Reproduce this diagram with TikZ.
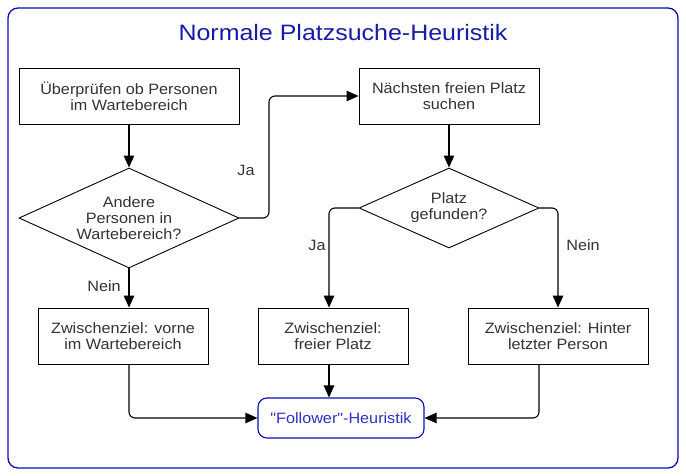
\documentclass[tikz,border=0pt]{standalone}
\usepackage{fontspec}
\setmainfont[FakeStretch=1.08]{Liberation Sans}
\newfontfamily\titlefont[FakeStretch=1.12]{Liberation Sans}
\newfontfamily\folfont[FakeStretch=1.08,Ligatures=TeXOff]{Liberation Sans}
\usetikzlibrary{arrows.meta,shapes.geometric,calc}
\definecolor{txt}{HTML}{333333}
\definecolor{frameblue}{HTML}{0A0AB4}
\definecolor{titleblue}{HTML}{1A1AA8}
\definecolor{folblue}{HTML}{3030C0}
\tikzset{
  box/.style={draw=black, line width=0.9pt, minimum width=#1, minimum height=56pt, inner sep=0pt, align=center, text=txt, font=\fontsize{15}{16}\selectfont},
  dia/.style={draw=black, line width=0.9pt, diamond, aspect=2.2, inner sep=0pt, align=center, text=txt, font=\fontsize{15}{16}\selectfont},
  lbl/.style={text=txt, font=\fontsize{15}{16}\selectfont, inner sep=0pt},
  arr/.style={draw=black, line width=1.1pt, rounded corners=6pt, -{Triangle[length=12pt,width=10.5pt]}},
  ln/.style={draw=black, line width=1.1pt}
}
\begin{document}
\begin{tikzpicture}[x=1pt,y=-1pt]
\useasboundingbox (0,0) rectangle (686,476);
\draw[frameblue, line width=1.3pt, rounded corners=10pt] (8,8) rectangle (678,468);
\node[text=titleblue, font=\titlefont\fontsize{22.3}{24}\selectfont] (title) at (343,33) {Normale Platzsuche-Heuristik};

\node[box=220pt] (b1) at (129,96) {Überprüfen ob Personen\\im Wartebereich};
\node[box=180pt] (b2) at (449,96) {Nächsten freien Platz\\suchen};
\node[dia, minimum width=220pt, minimum height=100pt] (d1) at (129,218) {Andere\\Personen in\\Wartebereich?};
\node[dia, minimum width=180pt, minimum height=80pt] (d2) at (449,208) {Platz\\gefunden?};
\node[box=170pt] (b3) at (123,336) {Zwischenziel: vorne\\im Wartebereich};
\node[box=150pt] (b4) at (333,336) {Zwischenziel:\\freier Platz};
\node[box=180pt] (b5) at (558,336) {Zwischenziel: Hinter\\letzter Person};
\node[draw=frameblue, line width=1.1pt, rounded corners=9pt, minimum width=166pt, minimum height=40pt, inner sep=0pt, text=folblue, font=\folfont\fontsize{15}{16}\selectfont] (f) at (341,418) {"Follower"-Heuristik};

\coordinate (c1) at (269,218);
\coordinate (c2) at (329,208);
\coordinate (c3) at (558,208);

\draw[arr] (b1.south) -- (d1.north);
\draw[arr] (d1.east) -- (c1) |- (b2.west);
\draw[arr] (b2.south) -- (d2.north);
\draw[arr] (d2.west) -- (c2) -- (c2 |- b4.north);
\draw[arr] (d2.east) -- (c3) -- (c3 |- b5.north);
\draw[arr] (d1.south) -- (d1.south |- b3.north);
\draw[arr] (d1.south |- b3.south) |- (f.west);
\draw[arr] (c2 |- b4.south) -- (c2 |- f.north);
\draw[arr] ($(b5.south)+(-19,0)$) |- (f.east);

\node[lbl] (l1) at (246,170) {Ja};
\node[lbl] (l2) at (317,245) {Ja};
\node[lbl] (l3) at (583,245) {Nein};
\node[lbl] (l4) at (104,286) {Nein};
\end{tikzpicture}
\end{document}
